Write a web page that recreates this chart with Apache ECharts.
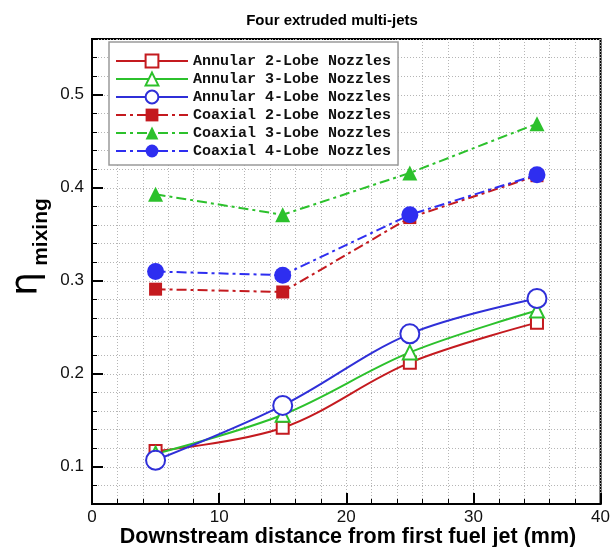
<!DOCTYPE html>
<html>
<head>
<meta charset="utf-8">
<script src="https://cdn.jsdelivr.net/npm/echarts@6/dist/echarts.min.js"></script>
<style>
html,body{margin:0;padding:0;background:#fff;}
#chart{width:613px;height:547px;}
</style>
</head>
<body>
<div id="chart"></div>
<script>
const xValues = [5, 15, 25, 35];
const annular2 = [0.117, 0.142, 0.212, 0.255];
const annular3 = [0.114, 0.156, 0.223, 0.268];
const annular4 = [0.107, 0.166, 0.243, 0.281];
const coaxial2 = [0.291, 0.288, 0.368, 0.413];
const coaxial3 = [0.393, 0.371, 0.416, 0.469];
const coaxial4 = [0.310, 0.306, 0.371, 0.414];
const seriesNames = ['Annular 2-Lobe Nozzles', 'Annular 3-Lobe Nozzles', 'Annular 4-Lobe Nozzles',
                     'Coaxial 2-Lobe Nozzles', 'Coaxial 3-Lobe Nozzles', 'Coaxial 4-Lobe Nozzles'];
const yTickValues = [0.1, 0.2, 0.3, 0.4, 0.5];
const titleText = 'Four extruded multi-jets';
const xTitle = 'Downstream distance from first fuel jet (mm)';

const RED = '#c41a1f', GREEN = '#2cc12c', BLUE = '#2f2fd8', BLUE2 = '#2e2ef0';
const pairs = arr => xValues.map((x, i) => [x, arr[i]]);
const gridColor = '#b5b5b5';

function annular(name, data, color, symbol, size) {
  return {
    name, type: 'line', data: pairs(data), smooth: 0.35,
    symbol, symbolSize: size, showSymbol: true,
    lineStyle: { color, width: 2 },
    itemStyle: { color: '#fff', borderColor: color, borderWidth: 2 },
    emphasis: { disabled: true }
  };
}
function coaxial(name, data, color, symbol, size) {
  return {
    name, type: 'line', data: pairs(data),
    symbol, symbolSize: size, showSymbol: true,
    lineStyle: { color, width: 2, type: [10, 4, 3, 4] },
    itemStyle: { color, borderColor: color, borderWidth: 0 },
    emphasis: { disabled: true }
  };
}

const chart = echarts.init(document.getElementById('chart'), null, { renderer: 'canvas' });
chart.setOption({
  animation: false,
  backgroundColor: '#fff',
  grid: { left: 92, right: 11, top: 39, bottom: 43, show: true, borderColor: '#000', borderWidth: 2, containLabel: false },
  legend: {
    orient: 'vertical', left: 109, top: 42,
    data: seriesNames,
    itemWidth: 72, itemHeight: 16, itemGap: 2,
    padding: [11, 7, 6, 6],
    backgroundColor: '#fff', borderColor: '#9a9a9a', borderWidth: 1.5,
    textStyle: { fontFamily: 'Liberation Mono', fontWeight: 'bold', fontSize: 15, color: '#111', lineHeight: 16 },
    selectedMode: false
  },
  xAxis: {
    type: 'value', min: 0, max: 40, interval: 10,
    axisLine: { show: true, onZero: false, lineStyle: { color: '#000', width: 2 } },
    axisTick: { show: true, inside: true, length: 11, lineStyle: { color: '#000', width: 2 } },
    minorTick: { show: true, splitNumber: 5, length: 5, lineStyle: { color: '#000', width: 1 } },
    axisLabel: { show: true, margin: 5, fontFamily: 'Liberation Sans', fontSize: 17, color: '#111' },
    splitLine: { show: true, lineStyle: { color: gridColor, type: [1, 2], width: 1 } },
    minorSplitLine: { show: true, lineStyle: { color: gridColor, type: [1, 2], width: 1 } }
  },
  yAxis: [{
    type: 'value', min: 0.06, max: 0.56, interval: 0.02,
    axisLine: { show: true, onZero: false, lineStyle: { color: '#000', width: 2 } },
    axisTick: { show: true, inside: true, length: 5, lineStyle: { color: '#000', width: 1 } },
    axisLabel: { show: false },
    splitLine: { show: true, lineStyle: { color: gridColor, type: [1, 2], width: 1 } }
  }, {
    type: 'value', min: 0.06, max: 0.56, position: 'left', offset: 0,
    axisLine: { show: false },
    axisTick: { show: true, inside: true, length: 11, customValues: yTickValues, lineStyle: { color: '#000', width: 2 } },
    axisLabel: { show: true, margin: 8, customValues: yTickValues, formatter: v => String(Math.round(v * 10) / 10),
                 fontFamily: 'Liberation Sans', fontSize: 17, color: '#111' },
    splitLine: { show: false }
  }],
  series: [
    annular(seriesNames[0], annular2, RED, 'rect', 12),
    annular(seriesNames[1], annular3, GREEN, 'triangle', 14),
    annular(seriesNames[2], annular4, BLUE, 'circle', 19),
    coaxial(seriesNames[3], coaxial2, RED, 'rect', 13),
    coaxial(seriesNames[4], coaxial3, GREEN, 'triangle', 15),
    coaxial(seriesNames[5], coaxial4, BLUE2, 'circle', 17)
  ],
  graphic: [
    { type: 'text', x: 332, y: 21, style: { text: titleText, fontFamily: 'Liberation Sans', fontWeight: 'bold', fontSize: 15, fill: '#000', textAlign: 'center', textVerticalAlign: 'middle' } },
    { type: 'text', x: 348, y: 537, style: { text: xTitle, fontFamily: 'Liberation Sans', fontWeight: 'bold', fontSize: 21.5, fill: '#000', textAlign: 'center', textVerticalAlign: 'middle' } },
    { type: 'text', x: 27, y: 284, rotation: Math.PI / 2, style: { text: 'η', fontFamily: 'DejaVu Sans', fontSize: 38, fill: '#000', textAlign: 'center', textVerticalAlign: 'middle' } },
    { type: 'text', x: 41, y: 232, rotation: Math.PI / 2, style: { text: 'mixing', fontFamily: 'Liberation Sans', fontWeight: 'bold', fontSize: 21, fill: '#000', textAlign: 'center', textVerticalAlign: 'middle' } }
  ]
});
</script>
</body>
</html>
